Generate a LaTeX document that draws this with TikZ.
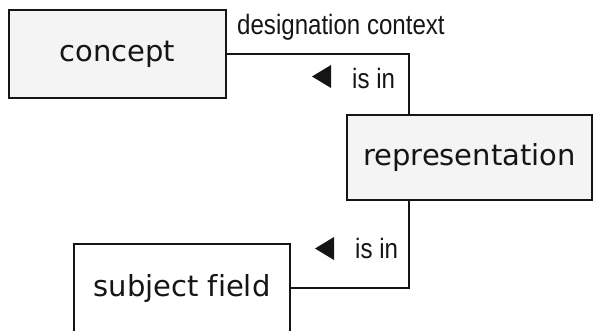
\documentclass[tikz,border=0pt]{standalone}
\usepackage{fontspec}
\setmainfont{Liberation Sans}
\newfontfamily\boxfont[Ligatures=NoCommon]{DejaVu Sans}
\newfontfamily\labelfont{Liberation Sans}
\definecolor{boxfill}{HTML}{F4F4F4}
\definecolor{ink}{HTML}{151515}
\tikzset{
  entity/.style={draw=ink, line width=2.5pt, inner sep=0pt, text=ink,
    font=\boxfont\fontsize{29}{34}\selectfont},
  conn/.style={draw=ink, line width=2.5pt},
  lbl/.style={inner sep=0pt, text=ink, font=\labelfont\fontsize{28}{32}\selectfont},
  tri/.style={fill=ink}
}
\begin{document}
\begin{tikzpicture}[x=1pt, y=-1pt]
\useasboundingbox (0,0) rectangle (593,330);
\node[entity, fill=boxfill, minimum width=217pt, minimum height=88pt] (concept) at (117.5,54) {concept};
\node[entity, fill=boxfill, minimum width=245pt, minimum height=85pt] (rep) at (469.5,157.5) {representation};
\node[entity, fill=white, minimum width=216pt, minimum height=88pt] (sf) at (182,288) {subject field};
\coordinate (j1) at (409,54);
\coordinate (j2) at (409,288);
\draw[conn] (concept.east) -- (j1) -- (j1 |- rep.north);
\draw[conn] (j2 |- rep.south) -- (j2) -- (sf.east);
\node[lbl, anchor=base west] (dc) at (237,34) {\scalebox{0.86}[1]{designation context}};
\node[lbl, anchor=base west] (isin1) at (352,88) {\scalebox{0.86}[1]{is in}};
\node[lbl, anchor=base west] (isin2) at (355,258) {\scalebox{0.86}[1]{is in}};
\fill[tri] (331,65) -- (331,88) -- (312,76.5) -- cycle;
\fill[tri] (334,237) -- (334,260) -- (315,248.5) -- cycle;
\end{tikzpicture}
\end{document}
